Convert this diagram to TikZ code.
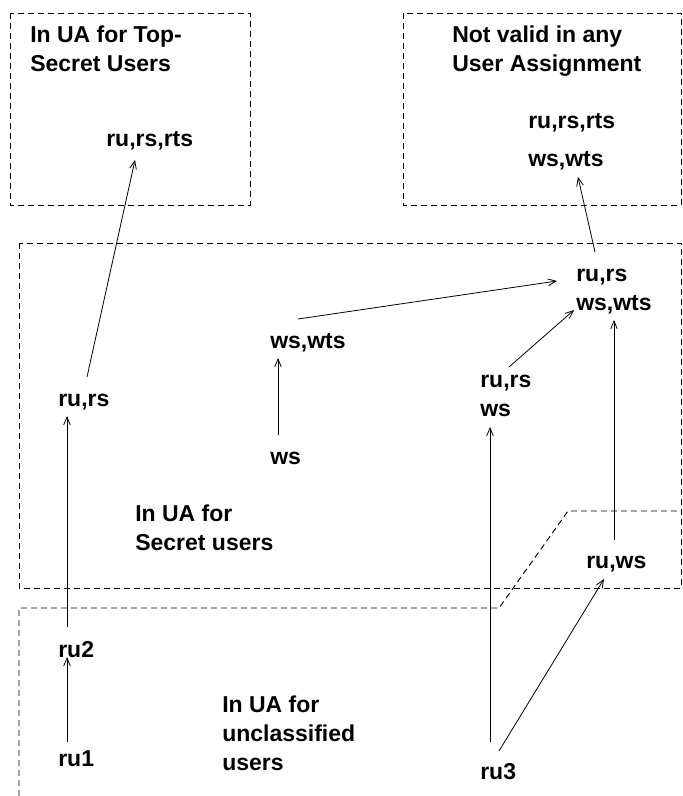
\documentclass[tikz,border=0pt]{standalone}
\usepackage{fontspec}
\setmainfont{Liberation Sans}
\usetikzlibrary{arrows.meta}
\usetikzlibrary{calc}
\usetikzlibrary{positioning}
\tikzset{%
  perm/.style = {inner sep=0pt,anchor=base west,
        font=\fontsize{17.25}{21.75}\selectfont\bfseries},
  note/.style = {perm,align=left},
  zone/.style = {draw,line width=0.7pt,dash pattern=on 4.5pt off 3pt},
  grant/.style = {-{Straight Barb[length=6pt,width=5pt]},line width=0.6pt}
}
\begin{document}
\begin{tikzpicture}[x=0.75pt,y=-0.75pt]
   \useasboundingbox (0,0) rectangle (682,796);
   \draw[zone] (10,13) rectangle (250,205);
   \draw[zone] (403,13) rectangle (681,205);
   \draw[zone] (19,243) rectangle (681,588);
   \draw[zone] (19,796) -- (19,608) -- (499,608) -- (568,511) -- (681,511);

   \node[note] (topsecret) at (30,71) {In UA for Top-\\Secret Users};
   \node[note] (invalid) at (452,71) {Not valid in any\\User Assignment};
   \node[note] (secret) at (135,550) {In UA for\\Secret users};
   \node[note] (unclass) at (222,770) {In UA for\\unclassified\\users};

   \node[perm] (rursrts) at (106,146) {ru,rs,rts};
   \node[perm] (badr) at (528,128) {ru,rs,rts};
   \node[perm] (badw) at (528,166) {ws,wts};
   \node[perm] (fullr) at (576,281) {ru,rs};
   \node[perm] (fullw) at (576,310) {ws,wts};
   \node[perm] (wswts) at (270,348) {ws,wts};
   \node[perm] (rurs) at (58,406) {ru,rs};
   \node[perm] (midr) at (480,387) {ru,rs};
   \node[perm] (midw) at (480,416) {ws};
   \node[perm] (ws) at (270,464) {ws};
   \node[perm] (ruws) at (586,568) {ru,ws};
   \node[perm] (ru2) at (58,657) {ru2};
   \node[perm] (ru1) at (58,766) {ru1};
   \node[perm] (ru3) at (480,779) {ru3};

   \draw[grant] ($(ru1.base west)+(9,-24)$) -- ($(ru2.base west)+(9,0)$);
   \draw[grant] ($(ru2.base west)+(9,-30)$) -- ($(rurs.base west)+(9,10)$);
   \draw[grant] ($(rurs.base west)+(29,-29)$) -- ($(rursrts.base west)+(29,14)$);
   \draw[grant] ($(ws.base west)+(8,-29)$) -- ($(wswts.base west)+(8,10)$);
   \draw[grant] ($(wswts.base west)+(28,-29)$) -- ($(fullr.base west)+(-19,0)$);
   \draw[grant] ($(midr.base west)+(29,-20)$) -- ($(fullw.base west)+(-2,0)$);
   \draw[grant] ($(ru3.base west)+(10,-37)$) -- ($(midw.base west)+(10,11)$);
   \draw[grant] ($(ru3.base west)+(19,-28)$) -- ($(ruws.base west)+(18,11)$);
   \draw[grant] ($(ruws.base west)+(28,-28)$) -- ($(fullw.base west)+(38,10)$);
   \draw[grant] ($(fullr.base west)+(19,-29)$) -- ($(badw.base west)+(50,11)$);
\end{tikzpicture}
\end{document}
